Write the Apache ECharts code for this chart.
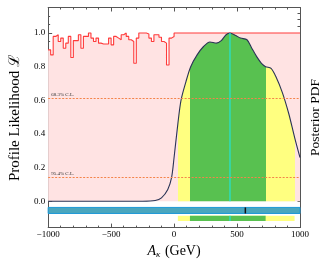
<!DOCTYPE html>
<html>
<head>
<meta charset="utf-8">
<script src="https://cdn.jsdelivr.net/npm/echarts@6/dist/echarts.min.js"></script>
<style>html,body{margin:0;padding:0;background:#fff}#c{width:330px;height:264px}</style>
</head>
<body>
<div id="c"></div>
<script>
// ---- Profile likelihood (step histogram), bin start -> value
const likeX = [-1000,-980,-960,-940,-920,-900,-880,-860,-840,-820,-800,-780,-760,-740,-720,-700,-680,-660,-640,-620,-600,-580,-560,-540,-520,-500,-480,-460,-440,-420,-400,-380,-360,-340,-320,-300,-280,-260,-240,-220,-200,-180,-160,-140,-120,-100,-80,-60,-40,-20,0,1000];
const likeY = [0.90,0.87,0.98,0.99,0.95,0.97,0.91,0.94,0.98,0.855,0.955,0.955,0.99,0.91,0.98,0.98,1.0,0.97,0.95,0.97,0.94,0.935,0.935,0.935,0.97,0.93,0.98,0.97,0.96,0.99,1.0,0.98,0.96,0.95,0.82,0.97,1.0,1.0,1.0,0.995,0.97,0.95,0.99,0.99,0.975,0.95,0.94,0.81,0.97,0.98,1.0,1.0];

// ---- Posterior PDF (normalised)
const postX = [-1000,-500,-250,-150,-100,-50,-20,0,30,55,94,132,183,234,285,336,375,413,444,490,528,579,617,656,694,727,770,809,860,911,957,1000];
const postY = [0,0,0,0.004,0.02,0.07,0.14,0.26,0.46,0.60,0.71,0.80,0.87,0.92,0.947,0.94,0.955,0.99,1.0,0.985,0.97,0.96,0.91,0.86,0.82,0.80,0.79,0.74,0.646,0.52,0.38,0.26];

// ---- Credible / confidence info
const ci95 = [30, 957];      // yellow
const ci68 = [126, 727];     // green
const postMode = 444;
const postModeY = 1.0;
const bestFit = 566;
const clLevels = [0.6065, 0.135];
const clNames = ['68.3% C.L.', '95.4% C.L.'];
const xRange = [-1000, 1000];
const tealBand = [-0.073, -0.037];
const ciBand = [-0.118, -0.086];

// ---- Axis ticks
const xTicks = [-1000, -500, 0, 500, 1000];
const yMajor = [0, 0.2, 0.4, 0.6, 0.8, 1.0];
const yMinor = [0.05,0.1,0.15,0.25,0.3,0.35,0.45,0.5,0.55,0.65,0.7,0.75,0.85,0.9,0.95,1.05,1.1];
const yRight = [0,0.04,0.08,0.12,0.16,0.2,0.24,0.28,0.32,0.36,0.4,0.44,0.48,0.52,0.56,0.6,0.64,0.68,0.72,0.76,0.8,0.84,0.88,0.92,0.96,1.0,1.04,1.08,1.12];

const serif = 'Liberation Serif';
const YMIN = -0.157, YMAX = 1.152;

const chart = echarts.init(document.getElementById('c'));

function yAx(extra) {
  return Object.assign({
    type: 'value', min: YMIN, max: YMAX,
    splitLine: { show: false },
    axisLine: { show: true, onZero: false, lineStyle: { color: '#555', width: 1 } },
    axisLabel: { show: false },
    axisTick: { show: false }
  }, extra);
}

const colors = { yellow: '#ffff80', green: '#58c150', cyan: '#22e3d6', teal: '#4aa6be', tealEdge: '#1f9ad8' };

const rectRows = [
  [xRange[0], xRange[1], tealBand[0], tealBand[1], 0],
  [ci95[0], ci95[1], ciBand[0], ciBand[1], 1],
  [ci68[0], ci68[1], ciBand[0], ciBand[1], 2]
];
const lineRows = [
  [postMode, postMode, 0, postModeY, 0],
  [postMode, postMode, ciBand[0], ciBand[1], 0],
  [bestFit, bestFit, tealBand[0], tealBand[1], 1]
];

chart.setOption({
  animation: false,
  grid: { left: 43, right: 27, top: 7.5, bottom: 35 },
  xAxis: [{
    type: 'value', min: xRange[0], max: xRange[1], interval: 500, position: 'bottom',
    splitLine: { show: false },
    axisLine: { onZero: false, lineStyle: { color: '#555' } },
    axisTick: { inside: true, length: 4, lineStyle: { color: '#555' } },
    minorTick: { show: true, splitNumber: 5, length: 2, lineStyle: { color: '#555' } },
    axisLabel: { fontFamily: serif, fontSize: 9, color: '#000', margin: 3,
      formatter: v => (v < 0 ? '\u2212' + Math.abs(v) : String(v)) },
    name: '{a|A}{k|\u03ba} (GeV)', nameLocation: 'middle', nameGap: 16,
    nameTextStyle: { fontFamily: serif, fontSize: 14, color: '#000',
      rich: { a: { fontFamily: serif, fontSize: 14, fontStyle: 'italic', color: '#000' },
              k: { fontFamily: serif, fontSize: 9, fontStyle: 'italic', color: '#000', verticalAlign: 'bottom', padding: [6, 1, 0, 0] } } }
  }, {
    type: 'value', min: xRange[0], max: xRange[1], interval: 500, position: 'top',
    splitLine: { show: false },
    axisLine: { onZero: false, lineStyle: { color: '#555' } },
    axisTick: { inside: true, length: 4, lineStyle: { color: '#555' } },
    minorTick: { show: true, splitNumber: 5, length: 2, lineStyle: { color: '#555' } },
    axisLabel: { show: false }
  }],
  yAxis: [
    yAx({ position: 'left',
      axisTick: { show: true, inside: true, length: 4, customValues: yMajor, lineStyle: { color: '#555' } },
      axisLabel: { show: true, customValues: yMajor, fontFamily: serif, fontSize: 9, color: '#000', margin: 3,
        formatter: v => v.toFixed(1) },
      name: 'Profile Likelihood \u2112', nameLocation: 'middle', nameGap: 18, nameRotate: 90,
      nameTextStyle: { fontFamily: serif, fontSize: 15, color: '#000' } }),
    yAx({ position: 'left',
      axisTick: { show: true, inside: true, length: 2, customValues: yMinor, lineStyle: { color: '#555' } } }),
    yAx({ position: 'right',
      axisTick: { show: true, inside: true, length: 2.5, customValues: yRight, lineStyle: { color: '#555' } },
      name: 'Posterior PDF', nameLocation: 'middle', nameGap: 8, nameRotate: 90,
      nameTextStyle: { fontFamily: serif, fontSize: 13.5, color: '#000' } })
  ],
  visualMap: {
    type: 'piecewise', show: false, dimension: 0, seriesIndex: 1,
    pieces: [
      { gte: ci95[0], lt: ci68[0], color: colors.yellow },
      { gte: ci68[0], lte: ci68[1], color: colors.green },
      { gt: ci68[1], lte: ci95[1], color: colors.yellow }
    ],
    outOfRange: { color: 'rgba(0,0,0,0)' }
  },
  series: [
    {
      type: 'line', name: 'like', step: 'end', symbol: 'none', z: 1,
      data: likeX.map((x, i) => [x, likeY[i]]),
      lineStyle: { color: '#ff3b3b', width: 1.1 },
      areaStyle: { color: '#ffe3e3', opacity: 1 },
      markLine: {
        silent: true, symbol: 'none', animation: false,
        lineStyle: { color: '#f4844a', type: [2, 1.5], width: 1 },
        label: { position: 'insideStartTop', fontFamily: serif, fontSize: 5, color: '#333', distance: [3, 1] },
        data: clLevels.map((v, i) => ({ yAxis: v, label: { formatter: clNames[i] } }))
      }
    },
    {
      type: 'line', name: 'post', smooth: 0.3, symbol: 'none', z: 2,
      data: postX.map((x, i) => [x, postY[i]]),
      lineStyle: { color: '#2a3456', width: 1.1 },
      areaStyle: { opacity: 1 }
    },
    {
      type: 'custom', z: 3, silent: true,
      data: rectRows,
      renderItem: (params, api) => {
        const p0 = api.coord([api.value(0), api.value(3)]);
        const p1 = api.coord([api.value(1), api.value(2)]);
        const k = api.value(4);
        const fill = k === 0 ? colors.teal : (k === 1 ? colors.yellow : colors.green);
        return {
          type: 'rect',
          shape: { x: p0[0], y: p0[1], width: p1[0] - p0[0], height: p1[1] - p0[1] },
          style: { fill: fill, stroke: k === 0 ? colors.tealEdge : null, lineWidth: 1 }
        };
      }
    },
    {
      type: 'custom', z: 4, silent: true,
      data: lineRows,
      renderItem: (params, api) => {
        const p0 = api.coord([api.value(0), api.value(2)]);
        const p1 = api.coord([api.value(1), api.value(3)]);
        const k = api.value(4);
        return {
          type: 'line',
          shape: { x1: p0[0], y1: p0[1], x2: p1[0], y2: p1[1] },
          style: { stroke: k === 0 ? colors.cyan : '#111', lineWidth: k === 0 ? 1.2 : 1.5 }
        };
      }
    }
  ]
});
</script>
</body>
</html>
